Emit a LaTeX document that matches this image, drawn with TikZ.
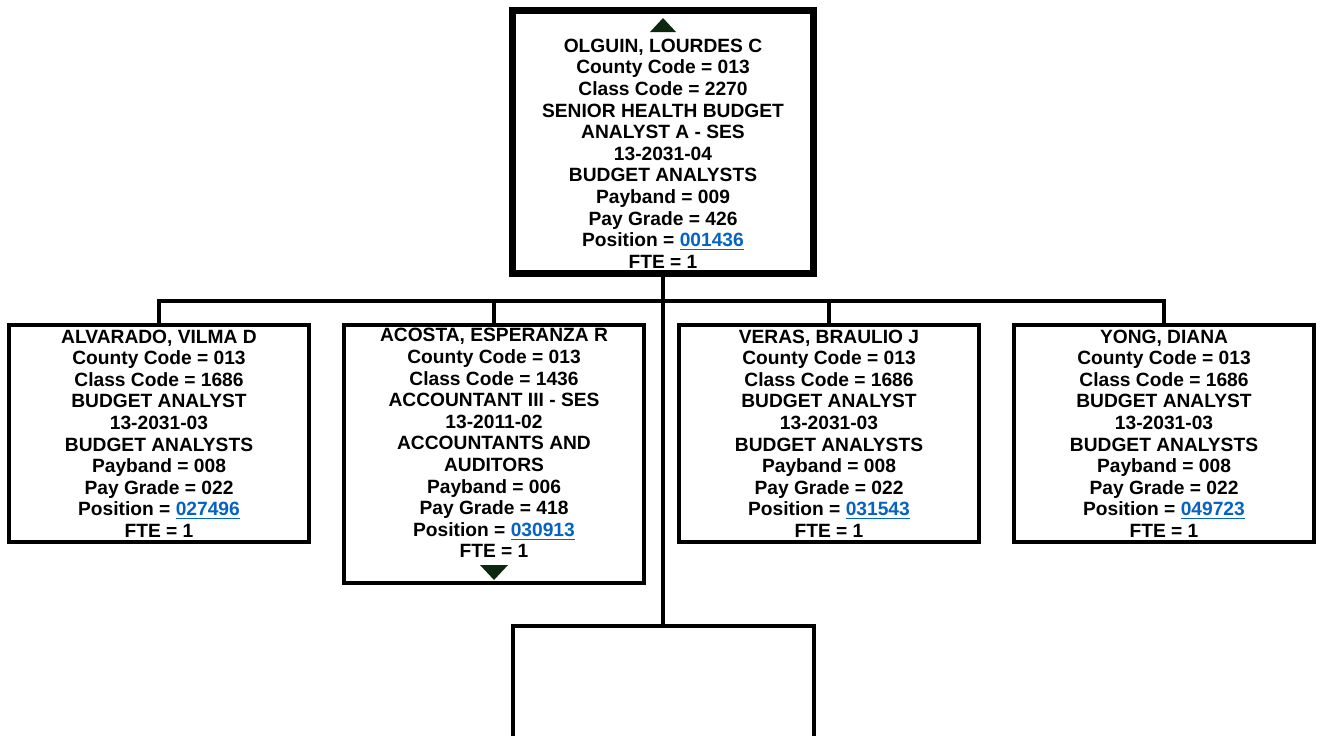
\documentclass[tikz,border=0pt]{standalone}
\usepackage{fontspec}
\setmainfont{Liberation Sans}
\usetikzlibrary{positioning}
\usetikzlibrary{calc}

\definecolor{linkblue}{RGB}{5,99,193}
\definecolor{tridark}{RGB}{14,40,16}
\newcommand{\poslink}[1]{\textcolor{linkblue}{\underline{#1}}}

\begin{document}
\begin{tikzpicture}[x=0.5pt,y=-0.5pt,line join=miter,
                    font=\fontsize{9.6}{10.8}\selectfont\bfseries]
	\tikzstyle{orgbox}=[rectangle,draw=black,line width=2pt,fill=white,align=center,
	                    inner sep=0pt,minimum width=150pt,minimum height=108.5pt]
	\tikzstyle{topbox}=[orgbox,line width=3.5pt,minimum width=150.5pt,minimum height=131.5pt]
	\tikzstyle{wire}=[line width=2pt,draw=black]
	\tikzstyle{tri}=[fill=tridark]

	\useasboundingbox[fill=white] (0,0) rectangle (1320,735);

	\node[topbox] (top) at (663,142) {\strut\\OLGUIN, LOURDES C\\County Code = 013\\Class Code = 2270\\
		SENIOR HEALTH BUDGET\\ANALYST A - SES\\13-2031-04\\BUDGET ANALYSTS\\Payband = 009\\
		Pay Grade = 426\\Position = \poslink{001436}\\FTE = 1};

	\node[orgbox] (c_1) at (159,433.5) {ALVARADO, VILMA D\\County Code = 013\\Class Code = 1686\\
		BUDGET ANALYST\\13-2031-03\\BUDGET ANALYSTS\\Payband = 008\\Pay Grade = 022\\
		Position = \poslink{027496}\\FTE = 1};
	\node[orgbox,minimum height=129pt] (c_2) [right=15.5pt of c_1.north east,anchor=north west]
		{ACOSTA, ESPERANZA R\\County Code = 013\\Class Code = 1436\\ACCOUNTANT III - SES\\
		13-2011-02\\ACCOUNTANTS AND\\AUDITORS\\Payband = 006\\Pay Grade = 418\\
		Position = \poslink{030913}\\FTE = 1\\\rule{0pt}{0pt}};
	\node[orgbox] (c_3) [right=15.5pt of c_2.north east,anchor=north west]
		{VERAS, BRAULIO J\\County Code = 013\\Class Code = 1686\\BUDGET ANALYST\\13-2031-03\\
		BUDGET ANALYSTS\\Payband = 008\\Pay Grade = 022\\Position = \poslink{031543}\\FTE = 1};
	\node[orgbox] (c_4) [right=15.5pt of c_3.north east,anchor=north west]
		{YONG, DIANA\\County Code = 013\\Class Code = 1686\\BUDGET ANALYST\\13-2031-03\\
		BUDGET ANALYSTS\\Payband = 008\\Pay Grade = 022\\Position = \poslink{049723}\\FTE = 1};

	% empty slot under the manager
	\node[orgbox,minimum width=150.5pt,minimum height=90pt] (vacant) [below=173.5pt of top] {};

	% connectors
	\coordinate (bus) at ($(top.south)+(0,24)$);
	\draw[wire] (c_1.north) |- (bus) -| (c_4.north);
	\draw[wire] (bus) -| (c_2.north);
	\draw[wire] (bus) -| (c_3.north);
	\draw[wire] (top.south) -- (top.south |- vacant.north);

	% expand / collapse markers
	\fill[tri] ($(top.north)+(0,11)$) -- ++(13,14) -- ++(-26,0) -- cycle;
	\fill[tri] ($(c_2.south)+(0,-5)$) -- ++(14,-15) -- ++(-28,0) -- cycle;
\end{tikzpicture}
\end{document}
